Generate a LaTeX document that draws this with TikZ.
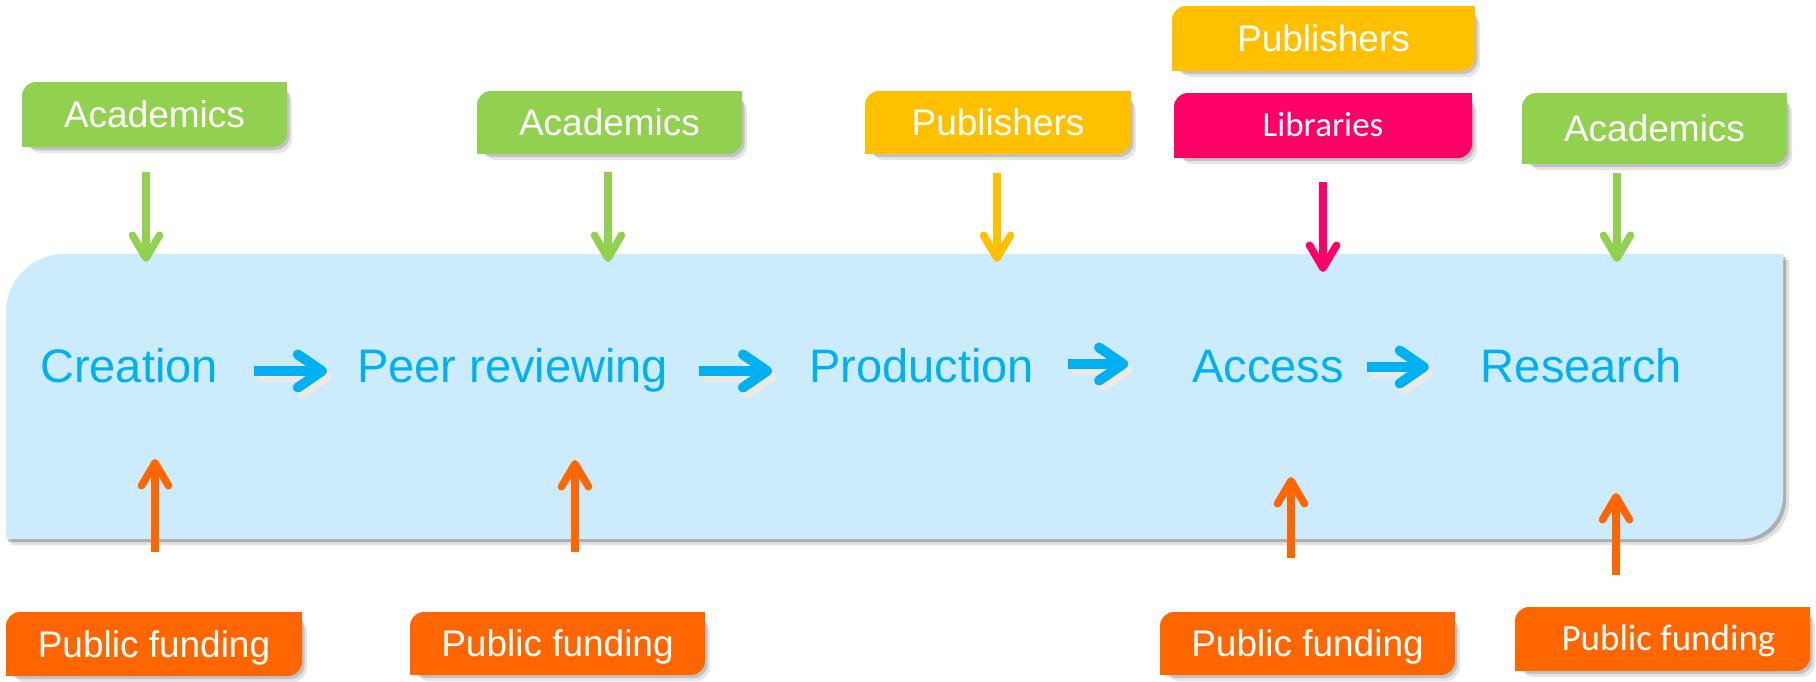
\documentclass[tikz,border=0pt]{standalone}
\usepackage{fontspec}
\setmainfont{Liberation Sans}
\newfontfamily\calibri{Carlito}
\usetikzlibrary{arrows.meta}
\definecolor{cgreen}{HTML}{92D050}
\definecolor{cyellow}{HTML}{FFC000}
\definecolor{cpink}{HTML}{FF0066}
\definecolor{corange}{HTML}{FF6600}
\definecolor{cblue}{HTML}{00B0F0}
\definecolor{cmain}{HTML}{CCEBFC}
\definecolor{cashadow}{HTML}{ECE9E7}
\begin{document}
\begin{tikzpicture}[x=1pt,y=-1pt,
  tagbox/.style={inner sep=0pt, text=white, font=\fontsize{37}{40}\selectfont,
    text height=26.5pt, text depth=0pt, rounded corners=14pt,
    preaction={fill=black, fill opacity=0.10, transform canvas={shift={(5pt,-6pt)}}},
    preaction={fill=black, fill opacity=0.15, transform canvas={shift={(2.5pt,-3pt)}}}},
  mainlbl/.style={inner sep=0pt, text=cblue, font=\fontsize{47}{50}\selectfont,
    text height=33.6pt, text depth=0pt},
  harrow/.style={line width=10pt, -{Straight Barb[length=24pt,width=33pt,round]}},
  varrow/.style={line width=7.5pt, -{Straight Barb[length=23pt,width=27pt,round]}}
]
\useasboundingbox (0,0) rectangle (1816,681);
\fill[white] (0,0) rectangle (1816,681);

% main panel shadow and fill
\fill[black, fill opacity=0.12] (11,545) -- (11,318) .. controls (11,286) and (37,260) .. (69,260) -- (1789,260) -- (1789,502) .. controls (1789,526) and (1770,545) .. (1746,545) -- cycle;
\fill[black, fill opacity=0.22] (8,542) -- (8,315) .. controls (8,283) and (34,257) .. (66,257) -- (1786,257) -- (1786,499) .. controls (1786,523) and (1767,542) .. (1743,542) -- cycle;
\fill[cmain] (6,539) -- (6,312) .. controls (6,280) and (32,254) .. (64,254) -- (1783,254) -- (1783,496) .. controls (1783,520) and (1764,539) .. (1740,539) -- cycle;

% main labels
\node[mainlbl] (cre) at (129,366) {Creation};
\node[mainlbl] (peer) at (512.5,366) {Peer reviewing};
\node[mainlbl] (prod) at (921.5,366) {Production};
\node[mainlbl] (acc) at (1268,366) {Access};
\node[mainlbl] (res) at (1581.5,366) {Research};

% horizontal arrows (shadow, then arrow)
\begin{scope}[cashadow, transform canvas={shift={(4pt,-6pt)}}]
\draw[harrow] ([xshift=36pt,yshift=-5pt]cre.east) -- ([xshift=-30pt,yshift=-5pt]peer.west);
\draw[harrow] ([xshift=31pt,yshift=-5pt]peer.east) -- ([xshift=-37pt,yshift=-5pt]prod.west);
\draw[harrow] ([xshift=34pt,yshift=2pt]prod.east) -- ([xshift=-64pt,yshift=2pt]acc.west);
\draw[harrow] ([xshift=23pt,yshift=-1pt]acc.east) -- ([xshift=-52pt,yshift=-1pt]res.west);
\end{scope}
\begin{scope}[cblue]
\draw[harrow] ([xshift=36pt,yshift=-5pt]cre.east) -- ([xshift=-30pt,yshift=-5pt]peer.west);
\draw[harrow] ([xshift=31pt,yshift=-5pt]peer.east) -- ([xshift=-37pt,yshift=-5pt]prod.west);
\draw[harrow] ([xshift=34pt,yshift=2pt]prod.east) -- ([xshift=-64pt,yshift=2pt]acc.west);
\draw[harrow] ([xshift=23pt,yshift=-1pt]acc.east) -- ([xshift=-52pt,yshift=-1pt]res.west);
\end{scope}

% top boxes
\node[tagbox, fill=cgreen, minimum width=265pt, minimum height=65pt] (a1) at (154.5,114.5) {Academics};
\node[tagbox, fill=cgreen, minimum width=265pt, minimum height=63pt] (a2) at (609.5,122.5) {Academics};
\node[tagbox, fill=cyellow, minimum width=266pt, minimum height=63pt] (p1) at (998,122.5) {Publishers};
\node[tagbox, fill=cyellow, minimum width=303pt, minimum height=65pt] (p2) at (1323.5,38.5) {Publishers};
\node[tagbox, fill=cpink, minimum width=298pt, minimum height=65pt, font=\calibri\fontsize{35}{38}\selectfont, text height=22.5pt] (lib) at (1323,125.5) {Libraries};
\node[tagbox, fill=cgreen, minimum width=265pt, minimum height=71pt] (a3) at (1654.5,128.5) {Academics};

% bottom boxes
\node[tagbox, fill=corange, minimum width=296pt, minimum height=64pt] (pf1) at (154,644) {Public funding};
\node[tagbox, fill=corange, minimum width=295pt, minimum height=63pt] (pf2) at (557.5,643.5) {Public funding};
\node[tagbox, fill=corange, minimum width=295pt, minimum height=63pt] (pf3) at (1307.5,643.5) {Public funding};
\node[tagbox, fill=corange, minimum width=295pt, minimum height=64pt, font=\calibri\fontsize{37}{40}\selectfont, text height=23.8pt] (pf4) at (1662.5,639) {\hspace*{12pt}Public funding};

% square corners (top right, bottom left)
\foreach \n/\c in {a1/cgreen,a2/cgreen,p1/cyellow,p2/cyellow,lib/cpink,a3/cgreen,pf1/corange,pf2/corange,pf3/corange,pf4/corange}{
  \fill[\c] (\n.north east) rectangle ++(-15,15);
  \fill[\c] (\n.south west) rectangle ++(15,-15);
}

% arrow end points on the panel
\coordinate (d1) at (146,262);
\coordinate (d2) at (608,262);
\coordinate (d3) at (997,262);
\coordinate (d4) at (1323,272);
\coordinate (d5) at (1617,262);
\coordinate (u1) at (155,459);
\coordinate (u2) at (575,460);
\coordinate (u3) at (1291,477);
\coordinate (u4) at (1616,493);

\draw[varrow, cgreen, shorten <=25pt] (a1.south -| d1) -- (d1);
\draw[varrow, cgreen, shorten <=18pt] (a2.south -| d2) -- (d2);
\draw[varrow, cyellow, shorten <=19pt] (p1.south -| d3) -- (d3);
\draw[varrow, cpink, shorten <=24pt] (lib.south -| d4) -- (d4);
\draw[varrow, cgreen, shorten <=9pt] (a3.south -| d5) -- (d5);
\draw[varrow, corange, shorten <=60pt] (pf1.north -| u1) -- (u1);
\draw[varrow, corange, shorten <=60pt] (pf2.north -| u2) -- (u2);
\draw[varrow, corange, shorten <=54pt] (pf3.north -| u3) -- (u3);
\draw[varrow, corange, shorten <=32pt] (pf4.north -| u4) -- (u4);
\end{tikzpicture}
\end{document}
